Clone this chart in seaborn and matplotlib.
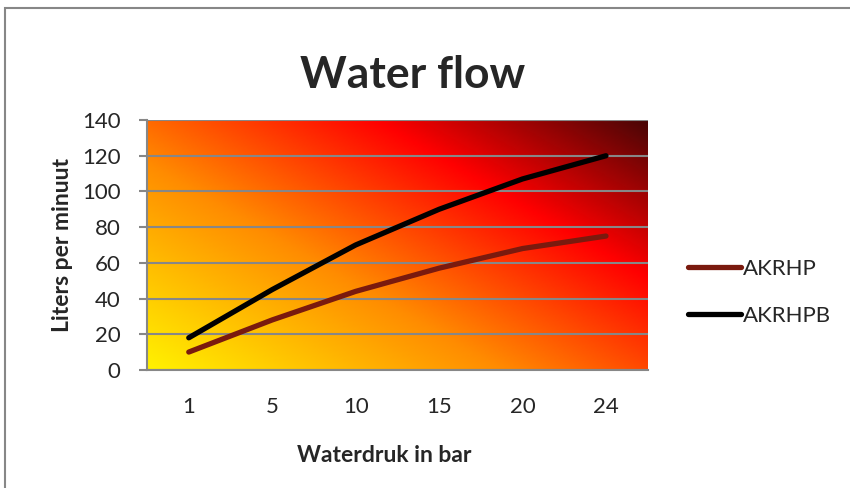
import matplotlib.pyplot as plt
import seaborn as sns
import numpy as np
import pandas as pd
from matplotlib.colors import LinearSegmentedColormap
from matplotlib.patches import Rectangle

# data
druk = ["1", "5", "10", "15", "20", "24"]
akrhp = [10, 28, 44, 57, 68, 75]
akrhpb = [18, 45, 70, 90, 107, 120]

df = pd.DataFrame({
    "druk": druk * 2,
    "lpm": akrhp + akrhpb,
    "serie": ["AKRHP"] * len(druk) + ["AKRHPB"] * len(druk),
})

sns.set_style("white")
plt.rcParams['font.family'] = ['Lato', 'DejaVu Sans']

fig = plt.figure(figsize=(8.5, 4.88), dpi=100)
ax = fig.add_axes([0.173, 0.242, 0.589, 0.512])

# outer chart border
fig.patches.append(Rectangle((0.006, -0.1), 1.2, 1.084, transform=fig.transFigure,
                             fill=False, edgecolor="#878787", linewidth=1.5))

# diagonal gradient background (yellow -> orange -> red -> dark red)
cmap = LinearSegmentedColormap.from_list("fire", [
    (0.0, "#FFF200"), (0.38, "#FF8C00"), (0.71, "#FF0000"), (1.0, "#4A0606")])
gx, gy = np.meshgrid(np.linspace(0, 1, 400), np.linspace(0, 1, 200))
grad = (161 * 500 * gx + 265 * 260 * gy) / (161 * 500 + 265 * 260)
ax.imshow(grad, cmap=cmap, origin="lower", extent=(0, 1, 0, 1), aspect="auto",
          transform=ax.transAxes, zorder=0, interpolation="bilinear")

palette = {"AKRHP": "#7A1A0E", "AKRHPB": "#000000"}
sns.lineplot(data=df, x="druk", y="lpm", hue="serie", palette=palette,
             linewidth=3.8, ax=ax, zorder=3, solid_capstyle="round")

ax.set_xlim(-0.5, 5.5)
ax.set_ylim(0, 140)
ax.set_yticks(range(0, 141, 20))
ax.grid(axis="y", color="#878787", linewidth=1.5, zorder=1)
ax.set_axisbelow(False)
for s in ["top", "right"]:
    ax.spines[s].set_visible(False)
for s in ["left", "bottom"]:
    ax.spines[s].set_color("#878787")
    ax.spines[s].set_linewidth(1.5)
ax.tick_params(axis="y", left=True, length=6, width=1.5, color="#878787",
               labelsize=16, pad=13)
ax.tick_params(axis="x", bottom=False, labelsize=16, pad=16)

ax.set_xlabel("Waterdruk in bar", fontsize=16.5, fontweight="bold")
ax.set_ylabel("Liters per minuut", fontsize=16.5, fontweight="bold")
ax.xaxis.set_label_coords(0.473, -0.30)
ax.yaxis.set_label_coords(-0.148, 0.5)
fig.text(0.485, 1 - 88 / 488, "Water flow", ha="center", va="baseline",
         fontsize=32, fontweight="bold")

leg = ax.legend(loc="center left", bbox_to_anchor=(1.04, 0.31), frameon=False,
                fontsize=16, handlelength=2.4, handletextpad=0.1, labelspacing=1.2)
for line in leg.get_lines():
    line.set_linewidth(3.8)

fig.savefig("out.png", dpi=100)
